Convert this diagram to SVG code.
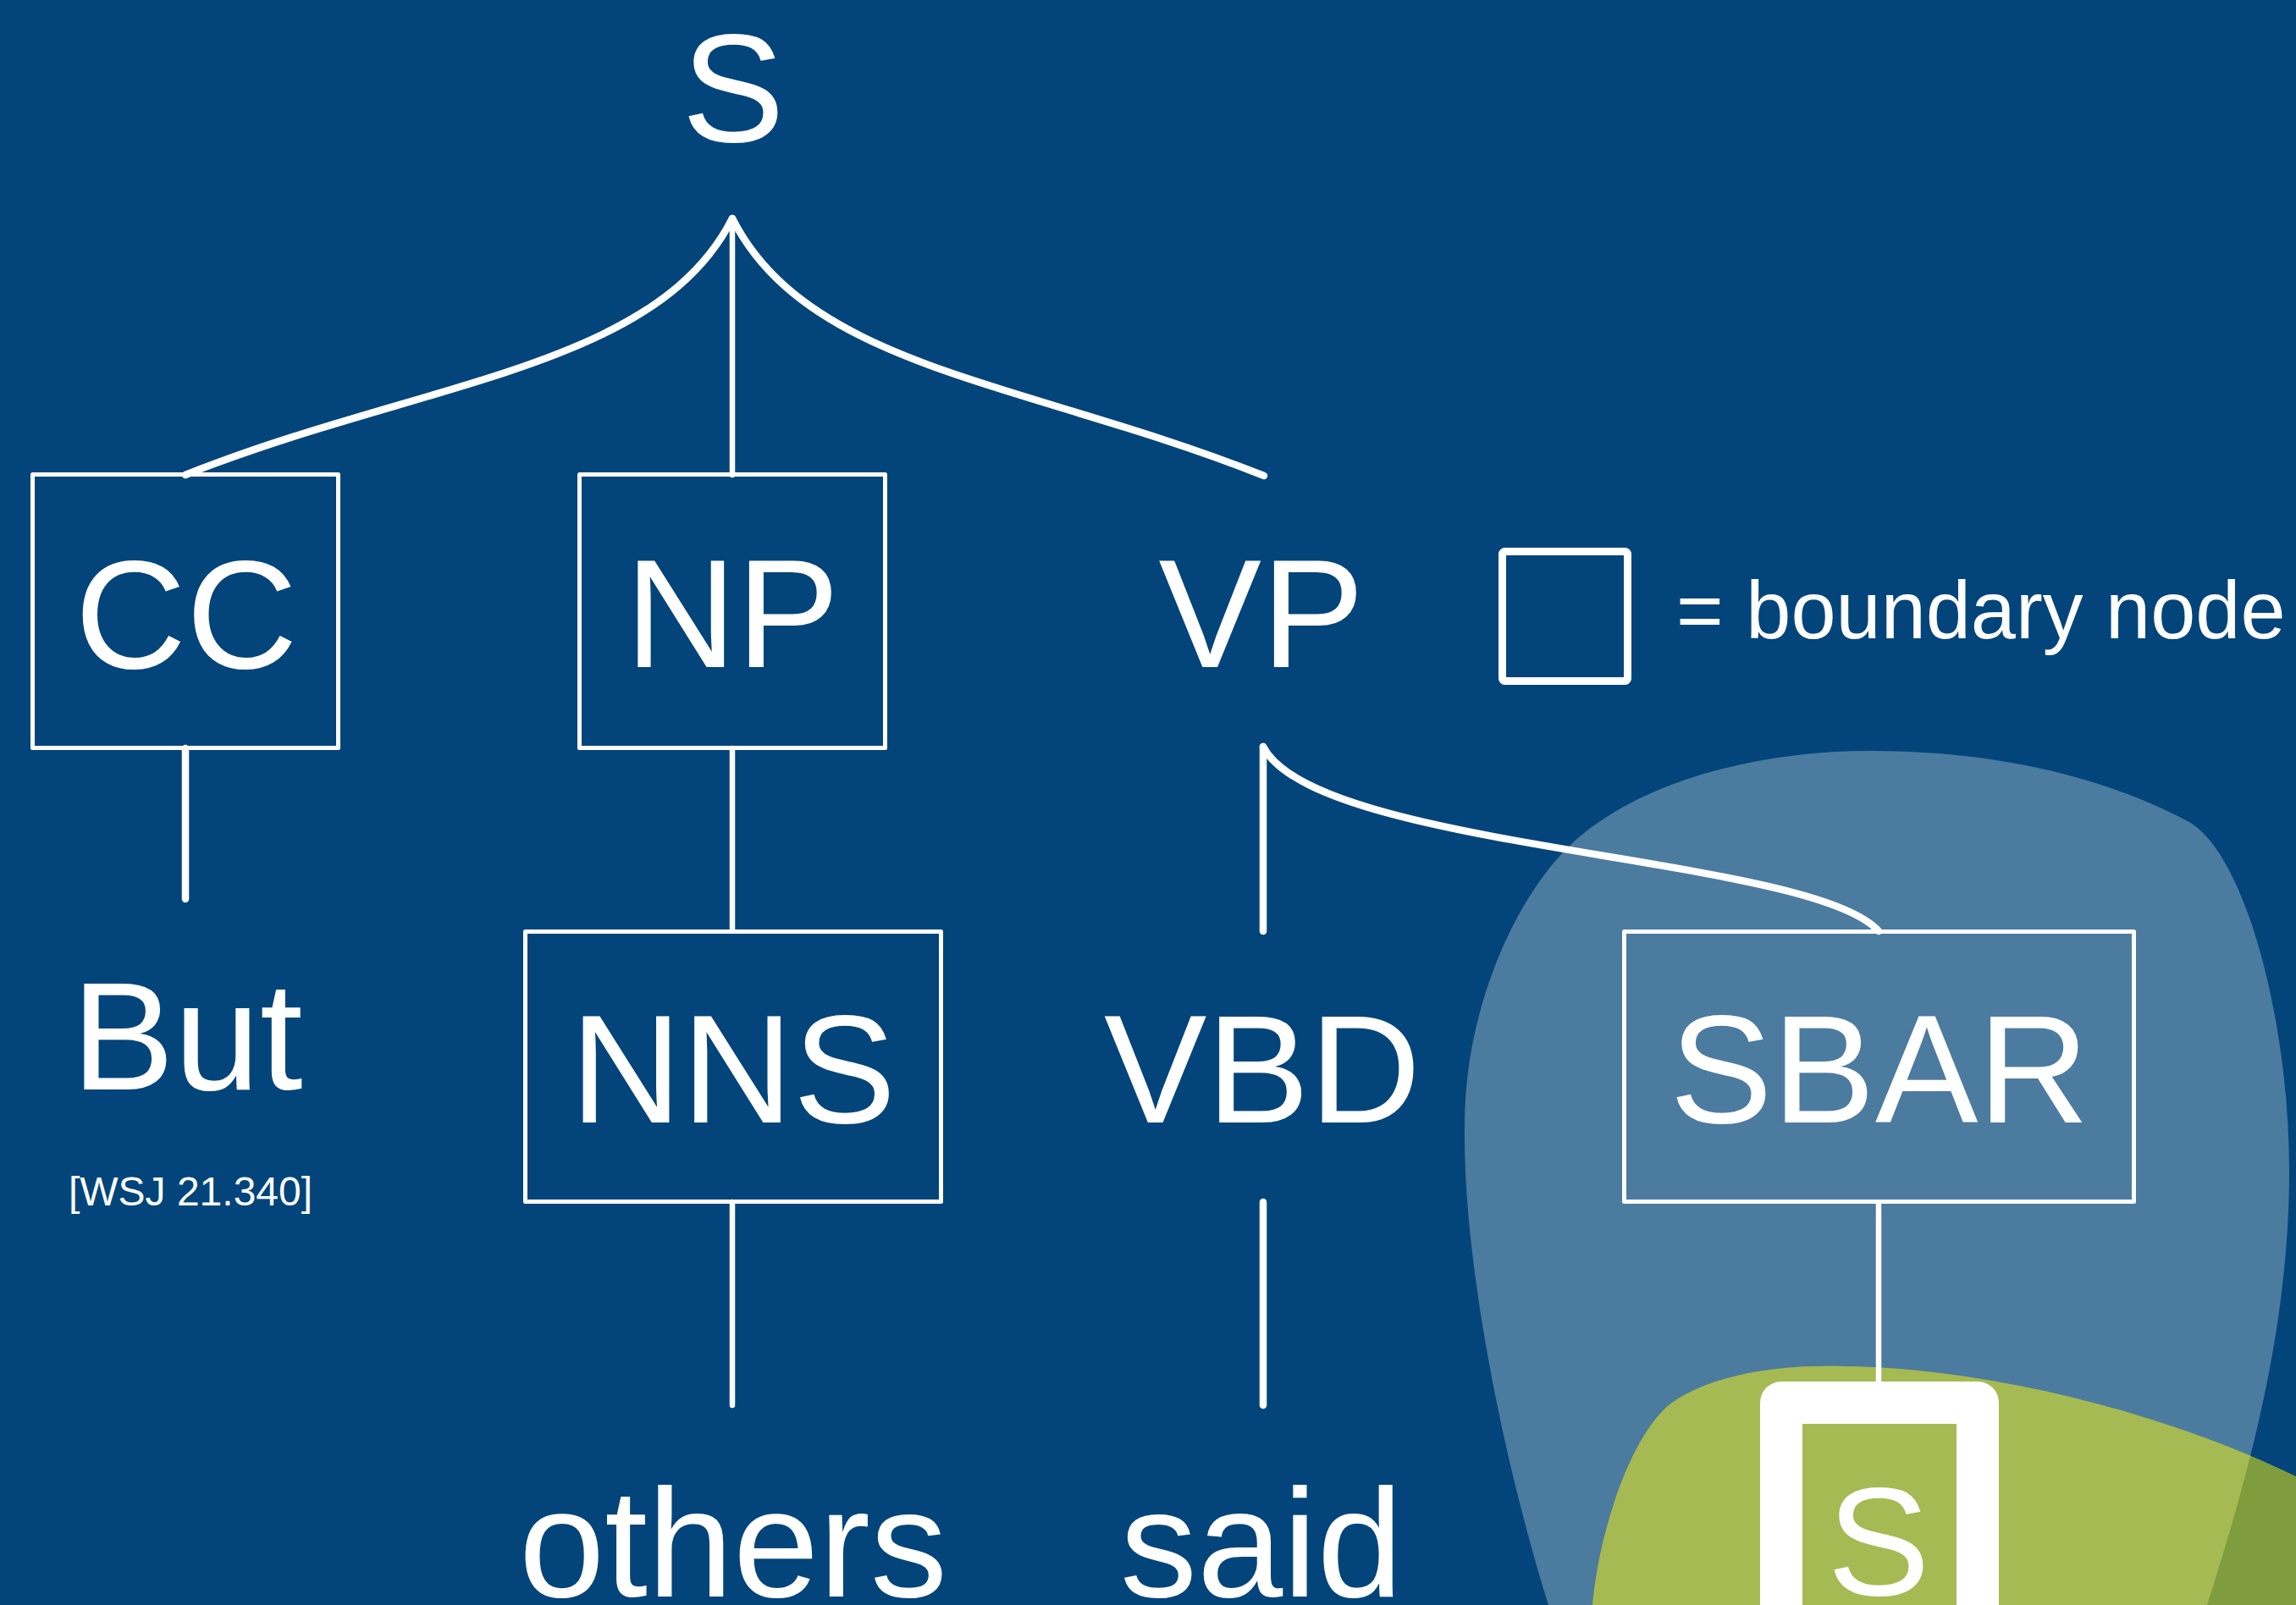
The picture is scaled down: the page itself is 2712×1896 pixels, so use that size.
<svg xmlns="http://www.w3.org/2000/svg" width="2712" height="1896" viewBox="0 0 2712 1896">
<defs>
<style>
.lbl{font-family:"Liberation Sans",Arial,Helvetica,sans-serif;fill:#ffffff;text-anchor:middle;font-size:182px}
.box{fill:none;stroke:#ffffff;stroke-width:5;stroke-linejoin:round}
.thin{fill:none;stroke:#ffffff;stroke-width:6.5;stroke-linecap:round}
.thick{fill:none;stroke:#ffffff;stroke-width:8.5;stroke-linecap:round}
</style>
<path id="lightBlob" d="M 1829 1896 C 1780 1740, 1728 1500, 1730 1330 C 1730 1180, 1800 1040, 1870 985 C 1950 920, 2080 887, 2210 887 C 2350 887, 2480 915, 2584 970 C 2650 1005, 2704 1200, 2704 1384 C 2704 1580, 2650 1760, 2607 1896 Z"/>
<path id="greenBlob" d="M 1881 1896 C 1890 1800, 1930 1690, 1975 1657 C 2030 1620, 2110 1612, 2178 1614 C 2350 1616, 2560 1670, 2712 1744 L 2712 1896 Z"/>
<clipPath id="lightClip"><use href="#lightBlob"/></clipPath>
</defs>
<rect x="0" y="0" width="2712" height="1896" fill="#03457A"/>
<g id="regions">
<use href="#lightBlob" fill="#4C7BA0"/>
<use href="#greenBlob" fill="#7F9D3E"/>
<use href="#greenBlob" fill="#A6BA53" clip-path="url(#lightClip)"/>
</g>
<g id="connectors">
<path class="thick" d="M 865 258 C 775 436, 498 450, 219 561"/>
<path class="thick" d="M 865 258 C 955 436, 1214 451, 1493 562"/>
<path class="thin" d="M 865 258 L 865 561"/>
<path class="thick" d="M 219 884 L 219 1062"/>
<path class="thin" d="M 865 884 L 865 1098"/>
<path class="thin" d="M 865 1420 L 865 1660"/>
<path class="thick" d="M 1492 882 L 1492 1100"/>
<path class="thick" d="M 1492 1420 L 1492 1660"/>
<path class="thick" d="M 1492 882 C 1555 1005, 2140 1010, 2219 1100"/>
<path class="thin" d="M 2219 1421 L 2219 1632"/>
</g>
<g id="node-S-root"><text class="lbl" x="866" y="167">S</text></g>
<g id="node-CC"><rect class="box" x="38.5" y="560.5" width="361" height="323"/><text class="lbl" x="220" y="789">CC</text></g>
<g id="node-NP"><rect class="box" x="684.5" y="560.5" width="361" height="323"/><text class="lbl" x="865" y="788">NP</text></g>
<g id="node-VP"><text class="lbl" x="1490" y="788">VP</text></g>
<g id="legend"><rect x="1774.5" y="651.5" width="148" height="153" rx="3" fill="none" stroke="#ffffff" stroke-width="9"/><text x="1980" y="754" font-family="'Liberation Sans',Arial,Helvetica,sans-serif" font-size="95.5" fill="#ffffff">= boundary node</text></g>
<g id="node-But"><text class="lbl" x="221" y="1287">But</text></g>
<g id="citation"><text x="225" y="1424" font-family="'Liberation Sans',Arial,Helvetica,sans-serif" font-size="48" fill="#ffffff" text-anchor="middle">[WSJ 21.340]</text></g>
<g id="node-NNS"><rect class="box" x="620.5" y="1100.5" width="491" height="319"/><text class="lbl" x="866" y="1326">NNS</text></g>
<g id="node-VBD"><text class="lbl" x="1491" y="1326">VBD</text></g>
<g id="node-SBAR"><rect class="box" x="1918.5" y="1100.5" width="602" height="319"/><text class="lbl" x="2220" y="1326">SBAR</text></g>
<g id="node-others"><text class="lbl" x="866" y="1886">others</text></g>
<g id="node-said"><text class="lbl" x="1490" y="1886">said</text></g>
<g id="node-S-sub"><rect x="2104" y="1657" width="232" height="400" fill="none" stroke="#ffffff" stroke-width="50" stroke-linejoin="round"/><text class="lbl" x="2219" y="1884">S</text></g>
</svg>
